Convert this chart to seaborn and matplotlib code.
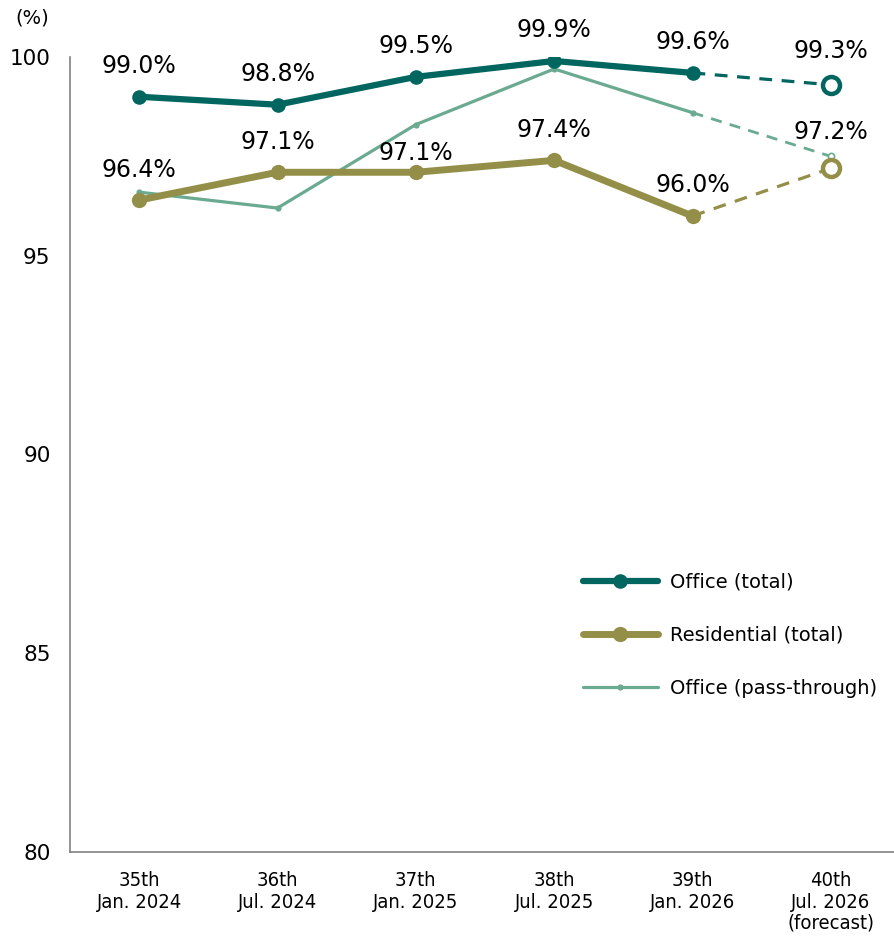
import matplotlib
matplotlib.use("Agg")
import matplotlib.pyplot as plt
from matplotlib.ticker import FixedLocator
import pandas as pd
import seaborn as sns

periods = ["35th\nJan. 2024", "36th\nJul. 2024", "37th\nJan. 2025",
           "38th\nJul. 2025", "39th\nJan. 2026", "40th\nJul. 2026\n(forecast)"]
office_total = [99.0, 98.8, 99.5, 99.9, 99.6, 99.3]
residential_total = [96.4, 97.1, 97.1, 97.4, 96.0, 97.2]
office_pass = [96.6, 96.2, 98.3, 99.7, 98.6, 97.5]

c_office = "#00665f"
c_resi = "#948f48"
c_pass = "#6aaa90"

sns.set_theme(style="white")
plt.rcParams["font.family"] = ["DejaVu Sans"]
plt.rcParams["text.color"] = "black"
plt.rcParams["xtick.color"] = "black"
plt.rcParams["ytick.color"] = "black"

fig = plt.figure(figsize=(8.94, 9.39), dpi=100)
ax = fig.add_axes([70 / 894, 1 - 852 / 939, 830 / 894, 795 / 939])

x = list(range(len(periods)))
df = pd.DataFrame({"x": x, "office": office_total, "resi": residential_total, "pass": office_pass})
act = df.iloc[:5]
fc = df.iloc[4:]

# actuals
sns.lineplot(data=act, x="x", y="pass", ax=ax, color=c_pass, lw=2.3,
             marker="o", markersize=4.5, markeredgewidth=0,
             label="Office (pass-through)", solid_capstyle="round")
sns.lineplot(data=act, x="x", y="resi", ax=ax, color=c_resi, lw=5,
             marker="o", markersize=11, markeredgewidth=0,
             label="Residential (total)", solid_capstyle="round")
sns.lineplot(data=act, x="x", y="office", ax=ax, color=c_office, lw=4.5,
             marker="o", markersize=10.5, markeredgewidth=0,
             label="Office (total)", solid_capstyle="round")

# forecast segments
sns.lineplot(data=fc, x="x", y="pass", ax=ax, color=c_pass, lw=2,
             linestyle=(0, (4, 3)), legend=False)
sns.lineplot(data=fc, x="x", y="resi", ax=ax, color=c_resi, lw=2.3,
             linestyle=(0, (4, 3)), legend=False)
sns.lineplot(data=fc, x="x", y="office", ax=ax, color=c_office, lw=2.3,
             linestyle=(0, (4, 3)), legend=False)
last = df.iloc[[5]]
sns.scatterplot(data=last, x="x", y="pass", ax=ax, s=20, color="white",
                edgecolor=c_pass, linewidth=1.2, zorder=5, legend=False)
sns.scatterplot(data=last, x="x", y="resi", ax=ax, s=150, color="white",
                edgecolor=c_resi, linewidth=3.2, zorder=5, legend=False)
sns.scatterplot(data=last, x="x", y="office", ax=ax, s=150, color="white",
                edgecolor=c_office, linewidth=3.2, zorder=5, legend=False)

# value labels
off_offsets = [22, 22, 22, 22, 22, 24]
res_offsets = [22, 22, 14, 22, 22, 26]
for i in x:
    ax.annotate(f"{office_total[i]:.1f}%", (i, office_total[i]), xytext=(0, off_offsets[i]),
                textcoords="offset points", ha="center", va="center", fontsize=17)
    ax.annotate(f"{residential_total[i]:.1f}%", (i, residential_total[i]), xytext=(0, res_offsets[i]),
                textcoords="offset points", ha="center", va="center", fontsize=17)

ax.set_xlim(-0.5, 5.5)
ax.set_ylim(80, 100)
ax.set_yticks([80, 85, 90, 95, 100])
ax.set_xticks(x)
ax.set_xticklabels(periods, fontsize=14.5, fontstretch="condensed", linespacing=1.15)
ax.xaxis.set_minor_locator(FixedLocator([0.5, 1.5, 2.5, 3.5, 4.5]))
ax.tick_params(axis="x", which="major", length=0, pad=14)
ax.tick_params(axis="x", which="minor", length=5, direction="in", color="#808080", width=1)
ax.tick_params(axis="y", length=0, pad=14, labelsize=15.5)
ax.set_xlabel("")
ax.set_ylabel("")
for s in ["top", "right"]:
    ax.spines[s].set_visible(False)
for s in ["left", "bottom"]:
    ax.spines[s].set_color("#808080")
    ax.spines[s].set_linewidth(1.2)

fig.text(32 / 894, 1 - 18 / 939, "(%)", ha="center", va="center", fontsize=14)

handles, labels = ax.get_legend_handles_labels()
order = [labels.index(l) for l in ["Office (total)", "Residential (total)", "Office (pass-through)"]]
ax.legend([handles[i] for i in order], [labels[i] for i in order],
          loc="upper left", bbox_to_anchor=(565 / 894, 1 - 555 / 939),
          bbox_transform=fig.transFigure, frameon=False, fontsize=14,
          handlelength=3.9, handletextpad=0.6, labelspacing=1.75)

fig.savefig("out.png", dpi=100)
